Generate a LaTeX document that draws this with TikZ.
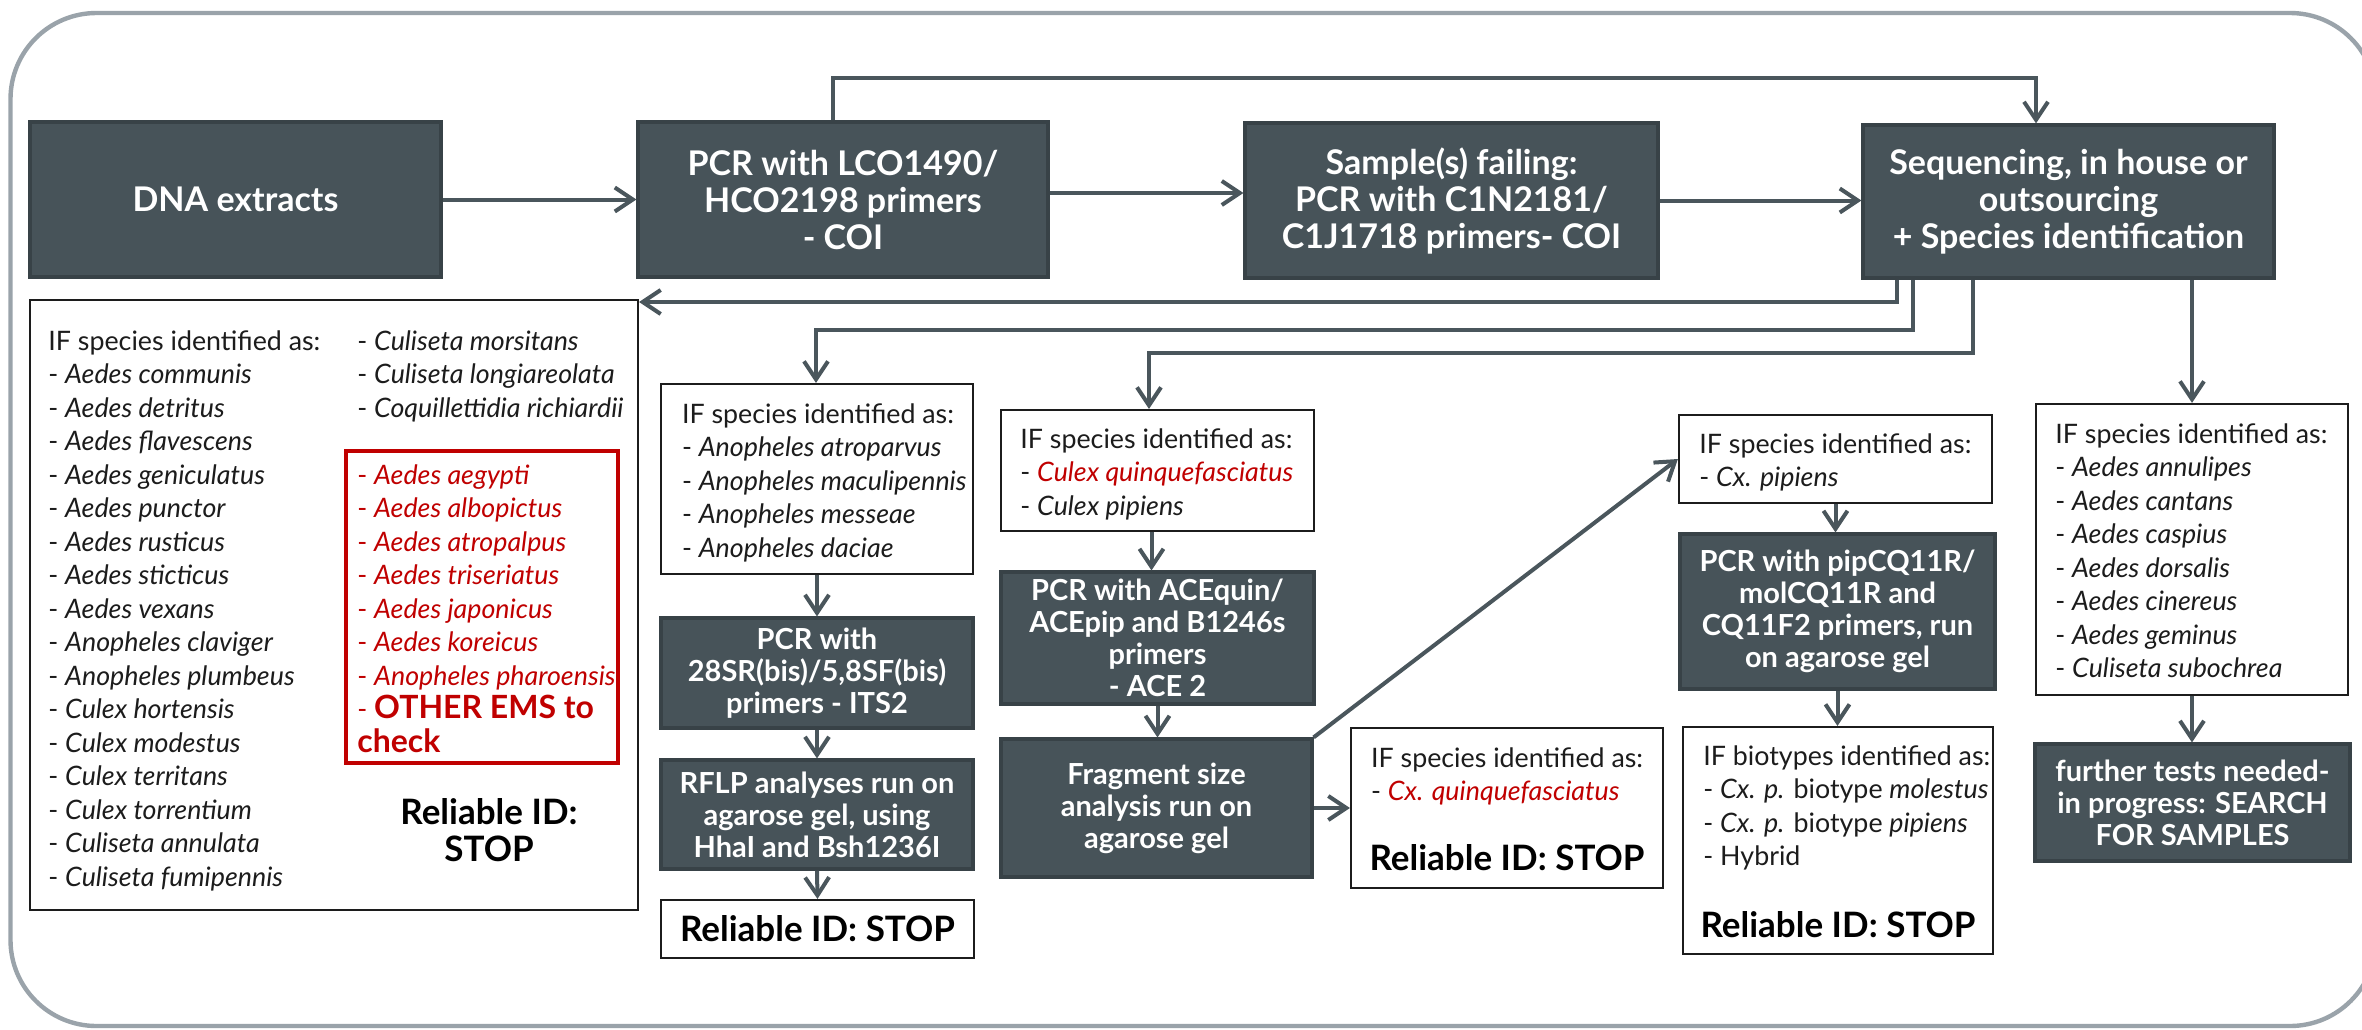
\documentclass[tikz,border=0pt]{standalone}
\usepackage{fontspec}
\setmainfont{Lato}
\usetikzlibrary{arrows.meta,calc}

\definecolor{slate}{HTML}{475359}
\definecolor{slateedge}{HTML}{384247}
\definecolor{wire}{HTML}{4A565C}
\definecolor{framegray}{HTML}{9AA3AA}
\definecolor{emred}{HTML}{C00000}
\definecolor{ink}{HTML}{1C1C1C}

\tikzset{
  darkbox/.style={rectangle, fill=slate, draw=slateedge, line width=1.6pt,
    text=white, align=center, inner sep=0pt,
    font=\bfseries\fontsize{14.5}{16}\selectfont},
  topbox/.style={darkbox, font=\bfseries\fontsize{17}{18.5}\selectfont},
  listbox/.style={rectangle, fill=white, draw=ink, line width=1.1pt, inner sep=0pt},
  listtxt/.style={anchor=north west, align=left, inner sep=0pt, text=ink,
    font=\fontsize{13.4}{16.75}\selectfont},
  stoptxt/.style={align=center, inner sep=0pt, text=black,
    font=\bfseries\fontsize{17.5}{18.5}\selectfont},
  link/.style={draw=wire, line width=2pt, -{Straight Barb[length=9pt,width=12pt]}},
}

\begin{document}
\begin{tikzpicture}[x=0.5pt, y=-0.5pt]
\useasboundingbox (0,0) rectangle (2362,1029);

% outer frame
\draw[framegray, line width=2.2pt, rounded corners=43pt] (10.5,13) rectangle (2376,1026);

% main row
\node[topbox, minimum width=205.5pt, minimum height=77.5pt] (dna)  at (235.5,199.5) {DNA extracts};
\node[topbox, minimum width=205pt,   minimum height=77.5pt] (pcr1) at (843,199.5)
  {PCR with LCO1490/\\HCO2198 primers\\- COI};
\node[topbox, minimum width=206.5pt, minimum height=77.5pt] (samp) at (1451.5,200.5)
  {Sample(s) failing:\\PCR with C1N2181/\\C1J1718 primers- COI};
\node[topbox, minimum width=205.5pt, minimum height=76.5pt] (seq)  at (2068.5,201.5)
  {Sequencing, in house or\\outsourcing\\+ Species identification};

% species list: reliable identification
\node[listbox, minimum width=304pt, minimum height=305pt] (llist) at (334,605) {};
\node[listtxt] (llistA) at (48,330) {IF species identified as:\\
  - \textit{Aedes communis}\\
  - \textit{Aedes detritus}\\
  - \textit{Aedes flavescens}\\
  - \textit{Aedes geniculatus}\\
  - \textit{Aedes punctor}\\
  - \textit{Aedes rusticus}\\
  - \textit{Aedes sticticus}\\
  - \textit{Aedes vexans}\\
  - \textit{Anopheles claviger}\\
  - \textit{Anopheles plumbeus}\\
  - \textit{Culex hortensis}\\
  - \textit{Culex modestus}\\
  - \textit{Culex territans}\\
  - \textit{Culex torrentium}\\
  - \textit{Culiseta annulata}\\
  - \textit{Culiseta fumipennis}};
\node[listtxt] (llistB) at (357,330) {- \textit{Culiseta morsitans}\\
  - \textit{Culiseta longiareolata}\\
  - \textit{Coquillettidia richiardii}};
\node[draw=emred, line width=2.2pt, minimum width=136pt, minimum height=156pt, inner sep=0pt] (ems) at (482,607) {};
\node[listtxt, text=emred] (emslist) at (357,464) {- \textit{Aedes aegypti}\\
  - \textit{Aedes albopictus}\\
  - \textit{Aedes atropalpus}\\
  - \textit{Aedes triseriatus}\\
  - \textit{Aedes japonicus}\\
  - \textit{Aedes koreicus}\\
  - \textit{Anopheles pharoensis}\\
  - {\bfseries\fontsize{16}{16.75}\selectfont OTHER EMS to}\\
  {\bfseries\fontsize{16}{16.75}\selectfont check}};
\node[stoptxt] (stopL) at (489,830.5) {Reliable ID:\\STOP};

% Anopheles branch
\node[listbox, minimum width=156pt, minimum height=95pt] (anoph) at (817,479) {};
\node[listtxt] (anophT) at (681.6,403) {IF species identified as:\\
  - \textit{Anopheles atroparvus}\\
  - \textit{Anopheles maculipennis}\\
  - \textit{Anopheles messeae}\\
  - \textit{Anopheles daciae}};
\node[darkbox, minimum width=156pt, minimum height=55pt] (its2) at (817,673)
  {PCR with\\28SR(bis)/5,8SF(bis)\\primers - ITS2};
\node[darkbox, minimum width=156pt, minimum height=54.5pt] (rflp) at (817,814.5)
  {RFLP analyses run on\\agarose gel, using\\HhaI and Bsh1236I};
\node[listbox, stoptxt, minimum width=156.5pt, minimum height=29pt] (rel1) at (817.5,929)
  {Reliable ID: STOP};

% Culex branch
\node[listbox, minimum width=156.5pt, minimum height=60.5pt] (culex) at (1157.5,470.5) {};
\node[listtxt] (culexT) at (1020,428) {IF species identified as:\\
  - \textcolor{emred}{\textit{Culex quinquefasciatus}}\\
  - \textit{Culex pipiens}};
\node[darkbox, minimum width=156.5pt, minimum height=66pt] (ace) at (1157.5,638)
  {PCR with ACEquin/\\ACEpip and B1246s\\primers\\- ACE 2};
\node[darkbox, minimum width=155.5pt, minimum height=69pt] (frag) at (1156.5,808)
  {Fragment size\\analysis run on\\agarose gel};

\node[listbox, minimum width=156pt, minimum height=80pt] (cxq) at (1507,808) {};
\node[listtxt] (cxqT) at (1370.7,747) {IF species identified as:\\
  - \textcolor{emred}{\textit{Cx. quinquefasciatus}}};
\node[stoptxt] (stopQ) at (1507,858) {Reliable ID: STOP};

% Cx. pipiens biotypes
\node[listbox, minimum width=156.5pt, minimum height=44pt] (cxpip) at (1835.5,459) {};
\node[listtxt] (cxpipT) at (1699,433) {IF species identified as:\\
  - \textit{Cx. pipiens}};
\node[darkbox, minimum width=157.5pt, minimum height=77.5pt] (pipcq) at (1837.5,611.5)
  {PCR with pipCQ11R/\\molCQ11R and\\CQ11F2 primers, run\\on agarose gel};
\node[listbox, minimum width=155pt, minimum height=113.5pt] (bio) at (1838,840.5) {};
\node[listtxt] (bioT) at (1703,745) {IF biotypes identified as:\\
  - \textit{Cx. p.} biotype \textit{molestus}\\
  - \textit{Cx. p.} biotype \textit{pipiens}\\
  - Hybrid};
\node[stoptxt] (stopB) at (1838,925) {Reliable ID: STOP};

% species needing further tests
\node[listbox, minimum width=156pt, minimum height=145.5pt] (rlist) at (2192,549.5) {};
\node[listtxt] (rlistT) at (2055,423) {IF species identified as:\\
  - \textit{Aedes annulipes}\\
  - \textit{Aedes cantans}\\
  - \textit{Aedes caspius}\\
  - \textit{Aedes dorsalis}\\
  - \textit{Aedes cinereus}\\
  - \textit{Aedes geminus}\\
  - \textit{Culiseta subochrea}};
\node[darkbox, minimum width=157.5pt, minimum height=58.5pt] (further) at (2192.5,802.5)
  {further tests needed-\\in progress: SEARCH\\FOR SAMPLES};

% routing points
\coordinate (topL) at (833,78);
\coordinate (topR) at (2036,78);
\coordinate (r1) at (1897,302);
\coordinate (r2) at (1913,330);
\coordinate (l2) at (816,330);
\coordinate (r3) at (1973,353);
\coordinate (l3) at (1149,353);

% connectors
\draw[link] (dna.east) -- (pcr1.west);
\draw[link] ([yshift=3.25pt]pcr1.east) -- ([yshift=3.25pt]pcr1.east -| samp.west);
\draw[link] (samp.east) -- (samp.east -| seq.west);
\draw[link] (pcr1.north -| topL) -- (topL) -- (topR) -- (topR |- seq.north);
\draw[link] (seq.south -| r1) -- (r1) -- (r1 -| llist.east);
\draw[link] (seq.south -| r2) -- (r2) -- (l2) -- (l2 |- anoph.north);
\draw[link] (seq.south -| r3) -- (r3) -- (l3) -- (l3 |- culex.north);
\draw[link] (seq.south -| rlist.north) -- (rlist.north);

\draw[link] (anoph.south) -- (its2.north);
\draw[link] (its2.south) -- (rflp.north);
\draw[link] (rflp.south) -- (rel1.north);

\draw[link] ([xshift=-3pt]culex.south) -- ([xshift=-3pt]culex.south |- ace.north);
\draw[link] (ace.south) -- (ace.south |- frag.north);
\draw[link] (frag.north east) -- (cxpip.west);
\draw[link] (frag.east) -- (cxq.west);

\draw[link] (cxpip.south) -- (cxpip.south |- pipcq.north);
\draw[link] (pipcq.south) -- (pipcq.south |- bio.north);
\draw[link] (rlist.south) -- (rlist.south |- further.north);
\end{tikzpicture}
\end{document}
